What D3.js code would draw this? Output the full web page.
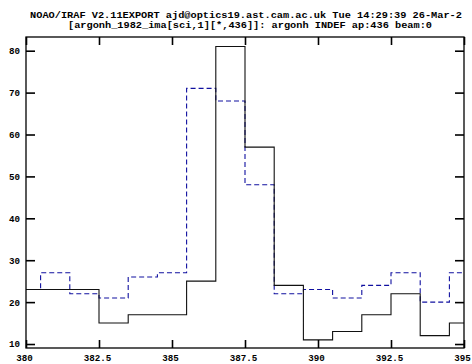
<!DOCTYPE html>
<html>
<head>
<meta charset="utf-8">
<script src="https://cdn.jsdelivr.net/npm/d3@7"></script>
<style>
  html, body { margin: 0; padding: 0; background: #fff; }
  svg { display: block; }
  text { font-family: "Liberation Mono", "DejaVu Sans Mono", monospace; font-weight: bold; fill: #000; }
</style>
</head>
<body>
<svg id="chart" width="472" height="364"></svg>
<script>
// Spectrum pixel positions (wavelength) and the two extracted flux series
const wavelength = [380, 381, 382, 383, 384, 385, 386, 387, 388, 389, 390, 391, 392, 393, 394, 395];
const fluxSolid  = [23, 23, 23, 15, 17, 17, 25, 81, 57, 24, 11, 13, 17, 22, 12, 15];
const fluxDashed = [23, 27, 22, 21, 26, 27, 71, 68, 48, 22, 23, 21, 24, 27, 20, 27];

const xTicks = [380, 382.5, 385, 387.5, 390, 392.5, 395];
const yTicks = [10, 20, 30, 40, 50, 60, 70, 80];

const titleLines = [
  "NOAO/IRAF V2.11EXPORT ajd@optics19.ast.cam.ac.uk Tue 14:29:39 26-Mar-2",
  "[argonh_1982_ima[sci,1][*,436]]: argonh INDEF ap:436 beam:0"
];

const svg = d3.select("#chart");
const W = 472, H = 364;
const m = { left: 26, right: 8, top: 37, bottom: 16 };
const x0 = m.left, x1 = W - m.right, y0 = m.top, y1 = H - m.bottom;

svg.append("rect").attr("width", W).attr("height", H).attr("fill", "#fff");

const x = d3.scaleLinear().domain([380, 395]).range([x0, x1]);
const y = d3.scaleLinear().domain([9.05, 83.27]).range([y1, y0]);

// Title block: fixed-pitch header, two lines
const charW = 6.17;
svg.append("text")
  .attr("x", 246).attr("y", 18)
  .attr("text-anchor", "middle")
  .attr("font-size", 8.8)
  .attr("textLength", titleLines[0].length * charW)
  .attr("lengthAdjust", "spacingAndGlyphs")
  .text(titleLines[0]);
svg.append("text")
  .attr("x", 250).attr("y", 28)
  .attr("text-anchor", "middle")
  .attr("font-size", 8.8)
  .attr("textLength", titleLines[1].length * charW)
  .attr("lengthAdjust", "spacingAndGlyphs")
  .text(titleLines[1]);

// Step traces (histogram-style, steps halfway between samples)
const clipId = "plotclip";
svg.append("clipPath").attr("id", clipId)
  .append("rect").attr("x", x0).attr("y", y0).attr("width", x1 - x0).attr("height", y1 - y0);

const stepLine = d3.line()
  .x(d => x(d[0]))
  .y(d => y(d[1]))
  .curve(d3.curveStep);
const pairs = vals => wavelength.map((w, i) => [w, vals[i]]);

const plot = svg.append("g").attr("clip-path", `url(#${clipId})`);
plot.append("path")
  .attr("d", stepLine(pairs(fluxDashed)))
  .attr("fill", "none")
  .attr("stroke", "#1010a0")
  .attr("stroke-width", 1.1)
  .attr("stroke-dasharray", "5,3");
plot.append("path")
  .attr("d", stepLine(pairs(fluxSolid)))
  .attr("fill", "none")
  .attr("stroke", "#111")
  .attr("stroke-width", 1.1);

// Axes: ticks point inward on all four sides
const fmtX = d => (d % 1 ? d.toFixed(1) : String(d));
const noLabel = () => "";
const tickFont = 9.2;

const gBottom = svg.append("g").attr("transform", `translate(0,${y1})`)
  .call(d3.axisBottom(x).tickValues(xTicks).tickFormat(fmtX).tickSize(-8).tickPadding(6));
gBottom.selectAll("text").attr("font-size", tickFont).attr("dx", -2);

const gTop = svg.append("g").attr("transform", `translate(0,${y0})`)
  .call(d3.axisTop(x).tickValues(xTicks).tickFormat(noLabel).tickSize(-8));

const gLeft = svg.append("g").attr("transform", `translate(${x0},0)`)
  .call(d3.axisLeft(y).tickValues(yTicks).tickFormat(d3.format("d")).tickSize(-9).tickPadding(6));
gLeft.selectAll("text").attr("font-size", tickFont);

const gRight = svg.append("g").attr("transform", `translate(${x1},0)`)
  .call(d3.axisRight(y).tickValues(yTicks).tickFormat(noLabel).tickSize(-9));

[gBottom, gTop, gLeft, gRight].forEach(g => {
  g.select(".domain").remove();
  g.selectAll(".tick line").attr("stroke", "#000").attr("stroke-width", 1.6);
  g.selectAll("text").attr("font-family", "Liberation Mono, DejaVu Sans Mono, monospace")
    .attr("font-weight", "bold").attr("fill", "#000");
});
gTop.selectAll("text").remove();
gRight.selectAll("text").remove();

// Frame
svg.append("rect")
  .attr("x", x0).attr("y", y0)
  .attr("width", x1 - x0).attr("height", y1 - y0)
  .attr("fill", "none").attr("stroke", "#000").attr("stroke-width", 1.3);
</script>
</body>
</html>
